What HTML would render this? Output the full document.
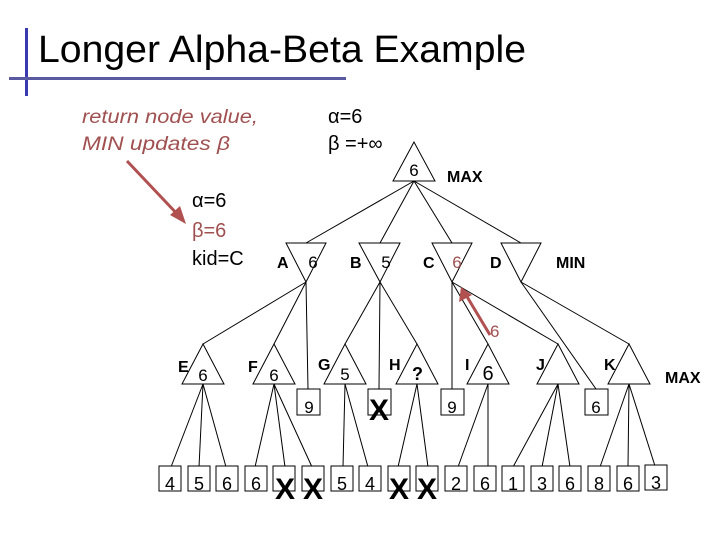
<!DOCTYPE html>
<html><head><meta charset="utf-8"><style>
html,body{margin:0;padding:0;background:#fff;}
svg{display:block;}
text{font-family:"Liberation Sans","DejaVu Sans",sans-serif;}
</style></head><body>
<svg width="720" height="540" viewBox="0 0 720 540" xmlns="http://www.w3.org/2000/svg">
<rect x="0" y="0" width="720" height="540" fill="#fff"/>
<rect x="25" y="28" width="3" height="68" fill="#3a3ab0"/>
<rect x="9" y="77" width="337" height="3" fill="#5a5aa0"/>
<text x="38" y="62" font-size="38" fill="#000" font-family="DejaVu Sans, sans-serif" textLength="488" lengthAdjust="spacingAndGlyphs">Longer Alpha-Beta Example</text>

<g fill="#a05050" font-style="italic" font-size="19">
<text x="82" y="123" textLength="176" lengthAdjust="spacingAndGlyphs">return node value,</text>
<text x="82" y="150" textLength="148" lengthAdjust="spacingAndGlyphs">MIN updates β</text>
</g>
<line x1="127" y1="161" x2="180" y2="217" stroke="#b05050" stroke-width="3"/>
<polygon points="186,224 170,215 180,206" fill="#b05050"/>

<g font-size="20" fill="#000">
<text x="192" y="207">α=6</text>
<text x="192" y="237" fill="#a05050">β=6</text>
<text x="192" y="265">kid=C</text>
<text x="328" y="123">α=6</text>
<text x="328" y="150">β =+∞</text>
</g>

<g stroke="#000" stroke-width="1" fill="none">
<polygon points="414,142 393,181 435,181" fill="#fff"/>
<line x1="414" y1="181" x2="306" y2="243"/>
<line x1="414" y1="181" x2="380" y2="243"/>
<line x1="414" y1="181" x2="452" y2="243"/>
<line x1="414" y1="181" x2="521" y2="243"/>
<polygon points="286,243 326,243 306,282" fill="#fff"/>
<polygon points="359,243 400,243 380,282" fill="#fff"/>
<polygon points="432,243 472,243 452,282" fill="#fff"/>
<polygon points="501,243 541,243 521,282" fill="#fff"/>
<line x1="306" y1="282" x2="203" y2="344"/>
<line x1="306" y1="282" x2="274" y2="344"/>
<line x1="306" y1="282" x2="308" y2="389"/>
<line x1="380" y1="282" x2="345" y2="344"/>
<line x1="380" y1="282" x2="379" y2="389"/>
<line x1="380" y1="282" x2="417" y2="344"/>
<line x1="452" y1="282" x2="452" y2="389"/>
<line x1="452" y1="282" x2="488" y2="344"/>
<line x1="452" y1="282" x2="558" y2="344"/>
<line x1="521" y1="282" x2="596" y2="389"/>
<line x1="521" y1="282" x2="629" y2="344"/>
<polygon points="203,344 182,384 224,384" fill="#fff"/>
<polygon points="274,344 253,384 295,384" fill="#fff"/>
<polygon points="345,344 324,384 366,384" fill="#fff"/>
<polygon points="417,344 396,384 438,384" fill="#fff"/>
<polygon points="488,344 467,384 509,384" fill="#fff"/>
<polygon points="558,344 537,384 579,384" fill="#fff"/>
<polygon points="629,344 608,384 650,384" fill="#fff"/>
<rect x="297" y="389" width="23" height="26" fill="#fff"/>
<rect x="368" y="389" width="23" height="26" fill="#fff"/>
<rect x="441" y="389" width="23" height="26" fill="#fff"/>
<rect x="585" y="389" width="23" height="26" fill="#fff"/>
<line x1="203" y1="384" x2="171" y2="467"/>
<line x1="203" y1="384" x2="199" y2="467"/>
<line x1="203" y1="384" x2="226" y2="467"/>
<line x1="274" y1="384" x2="255" y2="467"/>
<line x1="274" y1="384" x2="285" y2="467"/>
<line x1="274" y1="384" x2="312" y2="467"/>
<line x1="345" y1="384" x2="343" y2="467"/>
<line x1="345" y1="384" x2="368" y2="467"/>
<line x1="417" y1="384" x2="398" y2="467"/>
<line x1="417" y1="384" x2="428" y2="467"/>
<line x1="488" y1="384" x2="458" y2="467"/>
<line x1="488" y1="384" x2="488" y2="467"/>
<line x1="558" y1="384" x2="513" y2="467"/>
<line x1="558" y1="384" x2="542" y2="467"/>
<line x1="558" y1="384" x2="570" y2="467"/>
<line x1="629" y1="384" x2="600" y2="467"/>
<line x1="629" y1="384" x2="628" y2="467"/>
<line x1="629" y1="384" x2="655" y2="466"/>
<rect x="159" y="466" width="22" height="25" fill="#fff"/>
<rect x="188" y="466" width="22" height="25" fill="#fff"/>
<rect x="216" y="466" width="22" height="25" fill="#fff"/>
<rect x="245" y="466" width="22" height="25" fill="#fff"/>
<rect x="273" y="466" width="22" height="25" fill="#fff"/>
<rect x="302" y="466" width="22" height="25" fill="#fff"/>
<rect x="331" y="466" width="22" height="25" fill="#fff"/>
<rect x="359" y="466" width="22" height="25" fill="#fff"/>
<rect x="388" y="466" width="22" height="25" fill="#fff"/>
<rect x="416" y="466" width="22" height="25" fill="#fff"/>
<rect x="445" y="466" width="22" height="25" fill="#fff"/>
<rect x="474" y="466" width="22" height="25" fill="#fff"/>
<rect x="502" y="466" width="22" height="25" fill="#fff"/>
<rect x="531" y="466" width="22" height="25" fill="#fff"/>
<rect x="559" y="466" width="22" height="25" fill="#fff"/>
<rect x="588" y="466" width="22" height="25" fill="#fff"/>
<rect x="617" y="466" width="22" height="25" fill="#fff"/>
<rect x="645" y="465" width="22" height="25" fill="#fff"/>
</g>

<line x1="490" y1="335" x2="466" y2="295" stroke="#b05050" stroke-width="3"/>
<polygon points="461,287 459,302 472,295" fill="#b05050"/>
<text x="490" y="337" font-size="17" fill="#a05050">6</text>

<g font-weight="bold" font-size="16" fill="#000">
<text x="447" y="182">MAX</text>
<text x="556" y="268">MIN</text>
<text x="665" y="383">MAX</text>
<text x="277" y="268">A</text>
<text x="350" y="268">B</text>
<text x="423" y="268">C</text>
<text x="490" y="268">D</text>
<text x="178" y="372">E</text>
<text x="248" y="372">F</text>
<text x="318" y="370">G</text>
<text x="389" y="370">H</text>
<text x="465" y="370">I</text>
<text x="536" y="370">J</text>
<text x="604" y="370">K</text>
<text x="412" y="380" font-size="18">?</text>
</g>
<g font-size="17" fill="#000" text-anchor="middle">
<text x="414" y="176">6</text>
<text x="313" y="268">6</text>
<text x="386" y="268">5</text>
<text x="457" y="268" fill="#a05050">6</text>
<text x="203" y="381">6</text>
<text x="274" y="381">6</text>
<text x="345" y="380">5</text>
<text x="488" y="380" font-size="20">6</text>
<text x="309" y="413">9</text>
<text x="452" y="413">9</text>
<text x="596" y="413">6</text>
</g>
<g font-size="18" fill="#000" text-anchor="middle">
<text x="170" y="490">4</text>
<text x="199" y="490">5</text>
<text x="227" y="490">6</text>
<text x="256" y="490">6</text>
<text x="342" y="490">5</text>
<text x="370" y="490">4</text>
<text x="456" y="490">2</text>
<text x="485" y="490">6</text>
<text x="513" y="490">1</text>
<text x="542" y="490">3</text>
<text x="570" y="490">6</text>
<text x="599" y="490">8</text>
<text x="628" y="490">6</text>
<text x="656" y="489">3</text>
</g>
<g font-size="30" font-weight="bold" fill="#000" text-anchor="middle">
<text x="379" y="420">X</text>
<text x="285" y="499">X</text>
<text x="313" y="499">X</text>
<text x="399" y="499">X</text>
<text x="427" y="499">X</text>
</g>
</svg>
</body></html>
